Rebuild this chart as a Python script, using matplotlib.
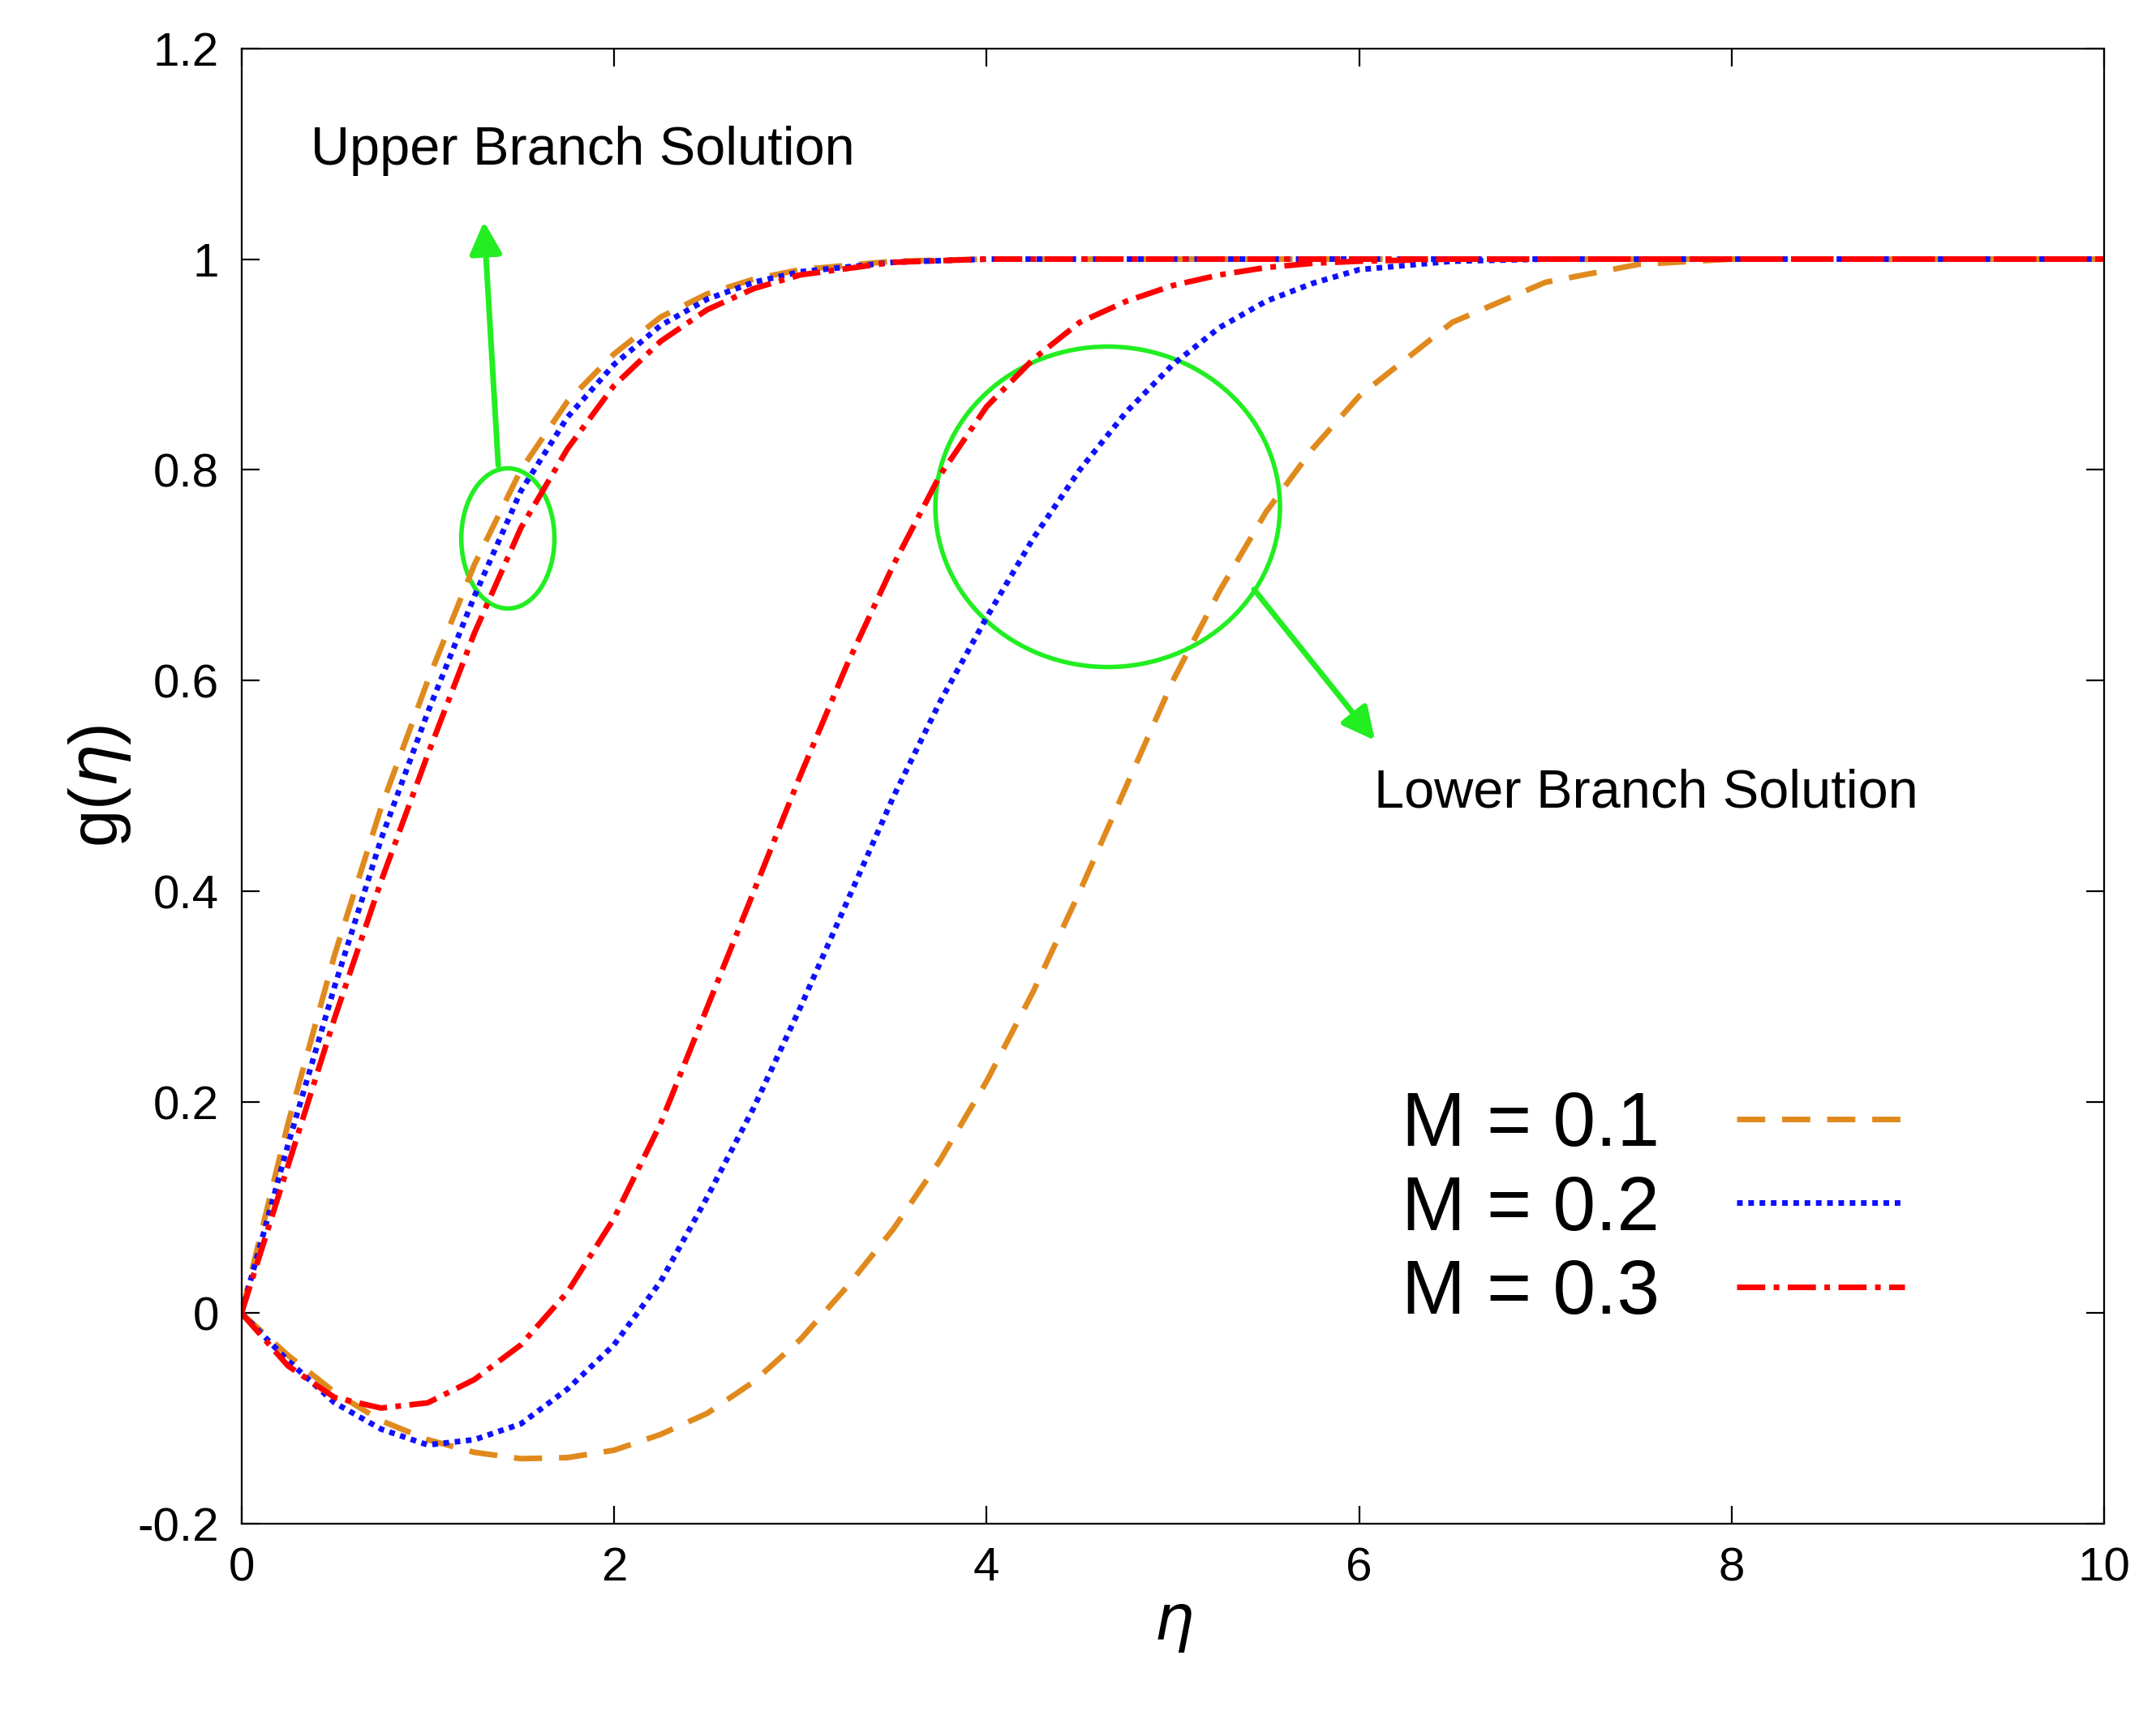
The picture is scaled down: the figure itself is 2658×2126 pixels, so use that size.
import matplotlib.pyplot as plt
from matplotlib.patches import Ellipse

# upper branch
eta_up = [0, 0.25, 0.5, 0.75, 1.0, 1.25, 1.5, 1.75, 2.0, 2.25, 2.5, 2.75, 3.0, 3.5, 4.0, 10]
up_m1 = [0, 0.18, 0.34, 0.48, 0.60, 0.71, 0.80, 0.865, 0.91, 0.945, 0.967, 0.981, 0.99, 0.998, 1, 1]
up_m2 = [0, 0.16, 0.31, 0.45, 0.57, 0.68, 0.78, 0.85, 0.90, 0.937, 0.962, 0.978, 0.988, 0.997, 1, 1]
up_m3 = [0, 0.14, 0.28, 0.41, 0.53, 0.645, 0.745, 0.82, 0.88, 0.922, 0.952, 0.972, 0.985, 0.997, 1, 1]

# lower branch
eta_lo = [0, 0.25, 0.5, 0.75, 1.0, 1.25, 1.5, 1.75, 2.0, 2.25, 2.5, 2.75, 3.0, 3.25, 3.5, 3.75,
          4.0, 4.25, 4.5, 4.75, 5.0, 5.25, 5.5, 5.75, 6.0, 6.5, 7.0, 7.5, 8.0, 10]
lo_m1 = [0, -0.04, -0.075, -0.102, -0.12, -0.132, -0.138, -0.137, -0.13, -0.115, -0.095, -0.065,
         -0.025, 0.025, 0.08, 0.145, 0.22, 0.305, 0.40, 0.50, 0.60, 0.685, 0.76, 0.82, 0.87, 0.94,
         0.978, 0.995, 1, 1]
lo_m2 = [0, -0.045, -0.085, -0.11, -0.125, -0.12, -0.105, -0.072, -0.03, 0.03, 0.11, 0.195,
         0.29, 0.39, 0.49, 0.58, 0.66, 0.735, 0.80, 0.855, 0.90, 0.935, 0.96, 0.977, 0.99, 0.998,
         1, 1, 1, 1]
lo_m3 = [0, -0.05, -0.08, -0.09, -0.085, -0.063, -0.03, 0.02, 0.09, 0.18, 0.29, 0.40,
         0.51, 0.615, 0.71, 0.795, 0.86, 0.905, 0.94, 0.96, 0.975, 0.985, 0.992, 0.996, 0.998, 1,
         1, 1, 1, 1]

labels = ['M = 0.1', 'M = 0.2', 'M = 0.3']
colors = ['#E08A1E', '#1010FF', '#FF0000']
styles = [(0, (5, 3)), (0, (1, 1)), (0, (5, 1.5, 1, 1.5))]

plt.rcParams['font.family'] = ['Liberation Sans', 'DejaVu Sans']
fig = plt.figure(figsize=(13.29, 10.63), dpi=200)
ax = fig.add_axes([0.112, 0.116, 0.864, 0.856])

for y_up, y_lo, lab, c, ls in zip([up_m1, up_m2, up_m3], [lo_m1, lo_m2, lo_m3], labels, colors, styles):
    ax.plot(eta_up, y_up, color=c, linestyle=ls, lw=2.5, label=lab)
    ax.plot(eta_lo, y_lo, color=c, linestyle=ls, lw=2.5)

ax.set_xlim(0, 10)
ax.set_ylim(-0.2, 1.2)
ax.set_xticks(range(0, 11, 2))
ax.set_yticks([-0.2, 0, 0.2, 0.4, 0.6, 0.8, 1, 1.2])
ax.set_yticklabels(['-0.2', '0', '0.2', '0.4', '0.6', '0.8', '1', '1.2'])
ax.tick_params(direction='in', top=True, right=True, labelsize=21, length=8, pad=10)
ax.set_xlabel(r'$\eta$', fontsize=28, labelpad=2)
ax.set_ylabel(r'g($\eta$)', fontsize=30, labelpad=2)

ax.add_patch(Ellipse((1.43, 0.735), 0.5, 0.133, fill=False, color='#22EE22', lw=2))
ax.add_patch(Ellipse((4.65, 0.765), 1.85, 0.304, fill=False, color='#22EE22', lw=2))
ax.annotate('', xy=(1.3, 1.04), xytext=(1.38, 0.8),
            arrowprops=dict(arrowstyle='-|>', color='#22EE22', lw=2.5, mutation_scale=30))
ax.annotate('', xy=(6.1, 0.54), xytext=(5.42, 0.69),
            arrowprops=dict(arrowstyle='-|>', color='#22EE22', lw=2.5, mutation_scale=30))
ax.text(0.37, 1.09, 'Upper Branch Solution', fontsize=24)
ax.text(6.08, 0.48, 'Lower Branch Solution', fontsize=24)

ax.legend(loc='lower right', bbox_to_anchor=(0.93, 0.085), frameon=False, markerfirst=False,
          fontsize=34, handlelength=2.2, handletextpad=1.0, labelspacing=0.15)

fig.savefig('out.png')
